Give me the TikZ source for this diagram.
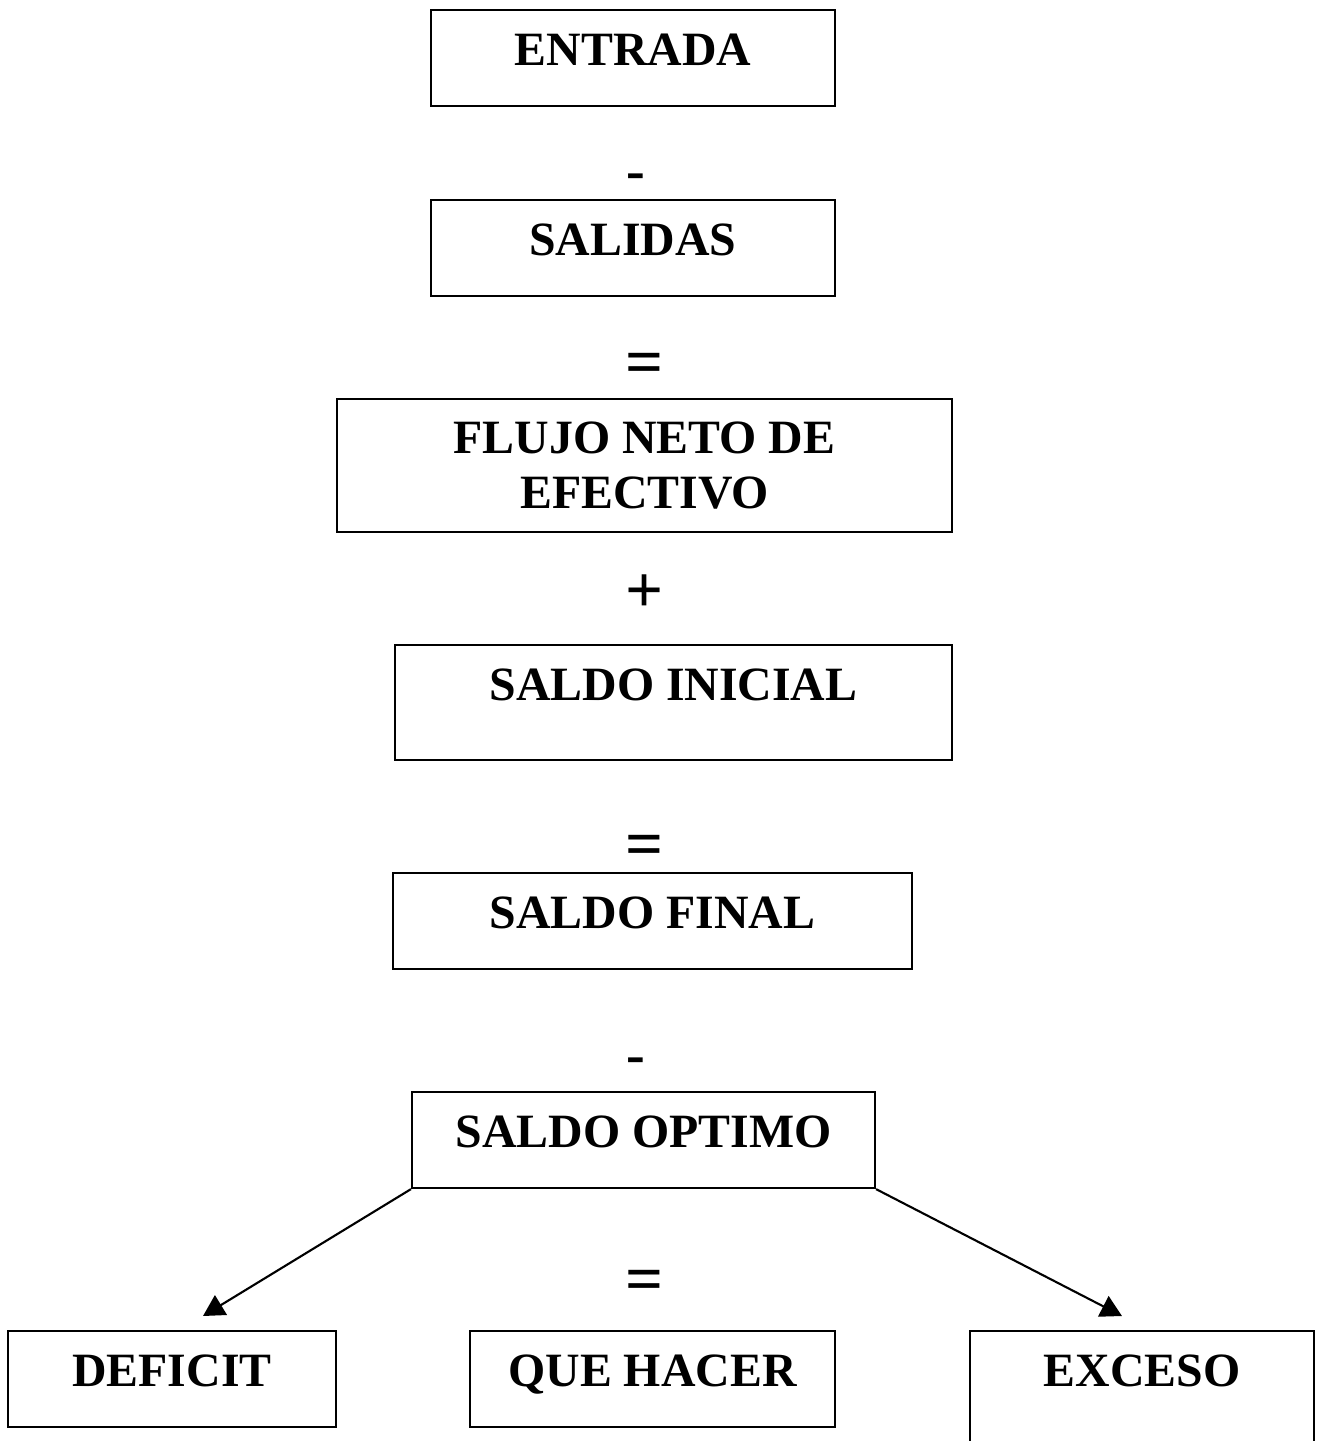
\documentclass[tikz,border=0pt]{standalone}
\usepackage{fontspec}
\setmainfont{Liberation Serif}
\usetikzlibrary{arrows.meta,positioning}
\tikzset{component/.style={draw, line width=0.6pt, align=center, inner sep=0pt, anchor=north, font=\fontsize{13.6}{15.4}\selectfont\bfseries, text height=0.55cm, text depth=0.41cm}}
\tikzset{operator/.style={inner sep=0pt, anchor=base, font=\fontsize{19}{19}\selectfont\bfseries}}
\tikzset{minus/.style={operator, font=\fontsize{16}{16}\selectfont\bfseries}}

\begin{document}
\begin{tikzpicture}
\clip (0,0) rectangle (13.22,-14.41);
% Nodes
\node (Entrada) [component, minimum width=4.04cm] at (6.33,-0.09) {ENTRADA};
\node (MinusOne) [minus] at (6.36,-1.90) {-};
\node (Salidas) [component, minimum width=4.04cm] at (6.33,-1.99) {SALIDAS};
\node (EqualOne) [operator] at (6.45,-3.85) {=};
\node (FlujoNeto) [component, minimum width=6.15cm, text height=1.09cm, text depth=0.24cm] at (6.445,-3.98) {FLUJO NETO DE\\ EFECTIVO};
\node (Plus) [operator] at (6.45,-6.12) {+};
\node (SaldoInicial) [component, minimum width=5.57cm, text height=0.55cm, text depth=0.60cm] at (6.735,-6.44) {SALDO INICIAL};
\node (EqualTwo) [operator] at (6.45,-8.66) {=};
\node (SaldoFinal) [component, minimum width=5.19cm] at (6.525,-8.72) {SALDO FINAL};
\node (MinusTwo) [minus] at (6.36,-10.73) {-};
\node (SaldoOptimo) [component, minimum width=4.63cm] at (6.435,-10.91) {SALDO OPTIMO};
\node (EqualThree) [operator] at (6.45,-13.01) {=};

\node (Deficit) [component, minimum width=3.28cm] at (1.72,-13.30) {DEFICIT};
\node (QueHacer) [component, minimum width=3.65cm] at (6.525,-13.30) {QUE HACER};
\node (Exceso) [component, minimum width=3.44cm, text height=0.55cm, text depth=0.81cm] at (11.42,-13.30) {EXCESO};

% Connectors
\begin{scope}[line width=0.6pt]
\draw [-{Triangle[length=6pt,width=6.5pt]}] (SaldoOptimo.south west) -- ([xshift=0.31cm,yshift=0.14cm]Deficit.north);
\draw [-{Triangle[length=6pt,width=6.5pt]}] (SaldoOptimo.south east) -- ([xshift=-0.20cm,yshift=0.14cm]Exceso.north);
\end{scope}

\end{tikzpicture}
\end{document}
